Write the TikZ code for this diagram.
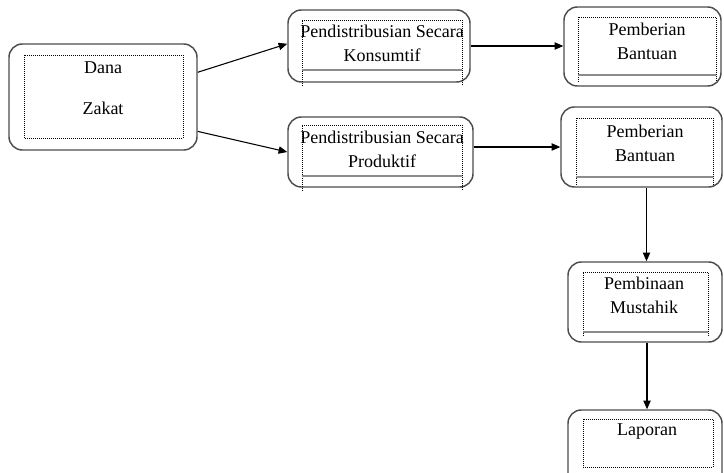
\documentclass[tikz,border=0pt]{standalone}
\usepackage{fontspec}
\setmainfont{Liberation Serif}
\usetikzlibrary{arrows.meta, positioning, calc, fit}

\begin{document}
\begin{tikzpicture}[
        >={Triangle[length=6.5pt, width=5.5pt]},
        x=0.75pt, y=-0.75pt,
        % outer Word-style text boxes
        outer/.style ={draw=black!70, line width=1.1pt, rounded corners=10pt, inner sep=0pt},
        dotbox/.style={draw=black, densely dotted, line width=0.5pt},
        sep/.style   ={draw=black!45, line width=1.3pt},
        lbl/.style   ={align=center, inner sep=0pt, font=\fontsize{13.5}{18}\selectfont},
        arr/.style   ={->, line width=0.8pt, draw=black}
    ]
    \clip (0,0) rectangle (724,473);

    % outer boxes
    \node[outer, fit={(9,44) (197,150)}]   (dana)  {};
    \node[outer, fit={(288,10) (470,82)}]  (kons)  {};
    \node[outer, fit={(288,117) (473,187)}] (prod) {};
    \node[outer, fit={(564,7) (721,86)}]   (bant1) {};
    \node[outer, fit={(561,107) (722,187)}] (bant2) {};
    \node[outer, fit={(568,262) (722,342)}] (bina)  {};
    \node[outer, fit={(568,410) (722,500)}] (lapor) {};

    % inner dotted frames
    \draw[dotbox] (24,55) rectangle (183,138);
    \draw[dotbox] (302,86) -- (302,20) -- (462,20) -- (462,86);
    \draw[sep] (302,70) -- (462,70);
    \draw[dotbox] (302,191) -- (302,125) -- (462,125) -- (462,191);
    \draw[sep] (302,176) -- (462,176);
    \draw[dotbox] (578,82) -- (578,17) -- (716,17) -- (716,82);
    \draw[sep] (578,75) -- (716,75);
    \draw[dotbox] (576,185) -- (576,118) -- (713,118) -- (713,185);
    \draw[sep] (576,177) -- (713,177);
    \draw[dotbox] (583,336) -- (583,272) -- (708,272) -- (708,336);
    \draw[sep] (583,332) -- (708,332);
    \draw[dotbox] (583,419) rectangle (713,467);

    % texts
    \node[lbl] (danatxt)  at (103,88)  {Dana\\[12.75pt]Zakat};
    \node[lbl] (konstxt)  at (382,43)  {Pendistribusian Secara\\Konsumtif};
    \node[lbl] (prodtxt)  at (382,149) {Pendistribusian Secara\\Produktif};
    \node[lbl] (bant1txt) at (647,41)  {Pemberian\\Bantuan};
    \node[lbl] (bant2txt) at (645,143) {Pemberian\\Bantuan};
    \node[lbl] (binatxt)  at (644,295) {Pembinaan\\Mustahik};
    \node[lbl] (laportxt) at (647,432) {Laporan};

    % connectors
    \draw[arr] ($(dana.north east)!0.27!(dana.south east)$) -- ($(kons.north west)!0.47!(kons.south west)$);
    \draw[arr] ($(dana.north east)!0.82!(dana.south east)$) -- (prod.west);
    \draw[arr] (kons.east) -- (kons.east -| bant1.west);
    \draw[arr] (prod.east |- bant2.west) -- (bant2.west);
    \draw[arr] ([xshift=3.75pt]bant2.south) -- ([xshift=3.75pt]bant2.south |- bina.north);
    \draw[arr] ([xshift=1.5pt]bina.south) -- ([xshift=1.5pt]bina.south |- lapor.north);
\end{tikzpicture}
\end{document}
